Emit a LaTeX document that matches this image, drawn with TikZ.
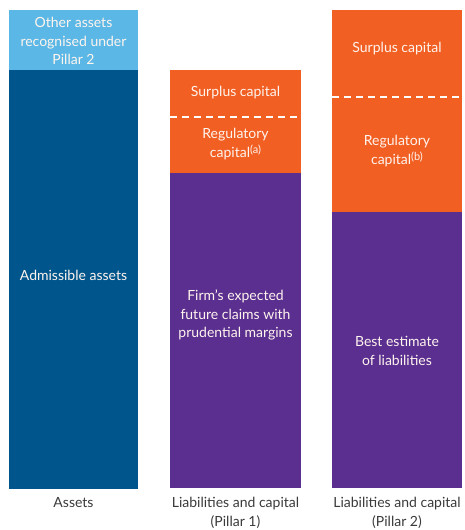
\documentclass[tikz,border=0pt]{standalone}
\usepackage{fontspec}
\setmainfont{Lato}
\definecolor{skyblue}{HTML}{5BB8E6}
\definecolor{deepblue}{HTML}{00568C}
\definecolor{capitalorange}{HTML}{F15F22}
\definecolor{claimpurple}{HTML}{5A2F8F}
\definecolor{labelgrey}{HTML}{3A3A3A}
\definecolor{boxtext}{HTML}{FFF4EE}
\newcommand{\notemark}[1]{\raisebox{4pt}{\fontsize{11}{11}\selectfont(#1)}}
\begin{document}
\begin{tikzpicture}[x=1pt,y=-1pt,
  block/.style={fill=#1,draw=none},
  intext/.style={text=boxtext,align=center,font=\fontsize{14}{18.5}\selectfont,inner sep=0pt},
  axislabel/.style={text=labelgrey,align=center,font=\fontsize{14}{18.5}\selectfont,inner sep=0pt},
  divider/.style={draw=white,line width=2.2pt,dash pattern=on 7pt off 5pt}]
\useasboundingbox (0,0) rectangle (464,530);

% Assets column
\path[block=skyblue] (9,10) rectangle (138,70);
\path[block=deepblue] (9,70) rectangle (138,489);
\node[intext] (other) at (73.5,41) {Other assets\\recognised under\\Pillar 2};
\node[intext] (admiss) at (73.5,275) {Admissible assets};

% Liabilities and capital, Pillar 1
\path[block=capitalorange] (170,70) rectangle (301,173);
\path[block=claimpurple] (170,173) rectangle (301,488);
\coordinate (d1a) at (170,117);
\coordinate (d1b) at (301,117);
\draw[divider] (d1a) -- (d1b);
\node[intext] (surp1) at (235.5,93) {Surplus capital};
\node[intext] (reg1) at (235.5,144) {Regulatory\\capital\notemark{a}};
\node[intext] (claims) at (235.5,315) {Firm’s expected\\future claims with\\prudential margins};

% Liabilities and capital, Pillar 2
\path[block=capitalorange] (332,10) rectangle (462,212);
\path[block=claimpurple] (332,212) rectangle (462,488);
\coordinate (d2a) at (332,97);
\coordinate (d2b) at (462,97);
\draw[divider] (d2a) -- (d2b);
\node[intext] (surp2) at (397,49) {Surplus capital};
\node[intext] (reg2) at (397,151) {Regulatory\\capital\notemark{b}};
\node[intext] (best) at (397,351) {Best estimate\\of liabilities};

% Column captions
\node[axislabel,anchor=north] (capA) at (73.5,497) {Assets};
\node[axislabel,anchor=north] (capB) at (235.5,497) {Liabilities and capital\\(Pillar 1)};
\node[axislabel,anchor=north] (capC) at (397,497) {Liabilities and capital\\(Pillar 2)};
\end{tikzpicture}
\end{document}
